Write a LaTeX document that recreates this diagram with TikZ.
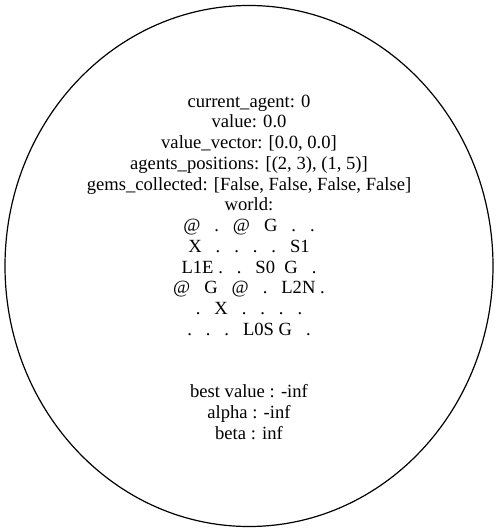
\documentclass[tikz,border=0pt]{standalone}
\usepackage{fontspec}
\setmainfont{Liberation Serif}
\usetikzlibrary{shapes.geometric}

\begin{document}
\begin{tikzpicture}[x=1pt, y=-1pt, font=\fontsize{18.6}{20.75}\selectfont]
  \useasboundingbox (0,0) rectangle (498,532);
  % search state
  \node[draw, ellipse, line width=1.2pt, minimum width=488pt, minimum height=521pt, inner sep=0pt] (state) at (249,266) {};
  \node[align=center] (label) at (249,267) {current\_agent: 0\\
    value: 0.0\\
    value\_vector: [0.0, 0.0]\\
    agents\_positions: [(2, 3), (1, 5)]\\
    gems\_collected: [False, False, False, False]\\
    world:\\
    @~~~.~~~@~~~G~~~.~~~.\\
    X~~~.~~~.~~~.~~~.~~~S1\\
    L1E~.~~~.~~~S0~~G~~~.\\
    @~~~G~~~@~~~.~~~L2N~.\\
    .~~~X~~~.~~~.~~~.~~~.\\
    .~~~.~~~.~~~L0S~G~~~.\\[41.5pt]
    best value : -inf\\
    alpha : -inf\\
    beta : inf};
\end{tikzpicture}
\end{document}
